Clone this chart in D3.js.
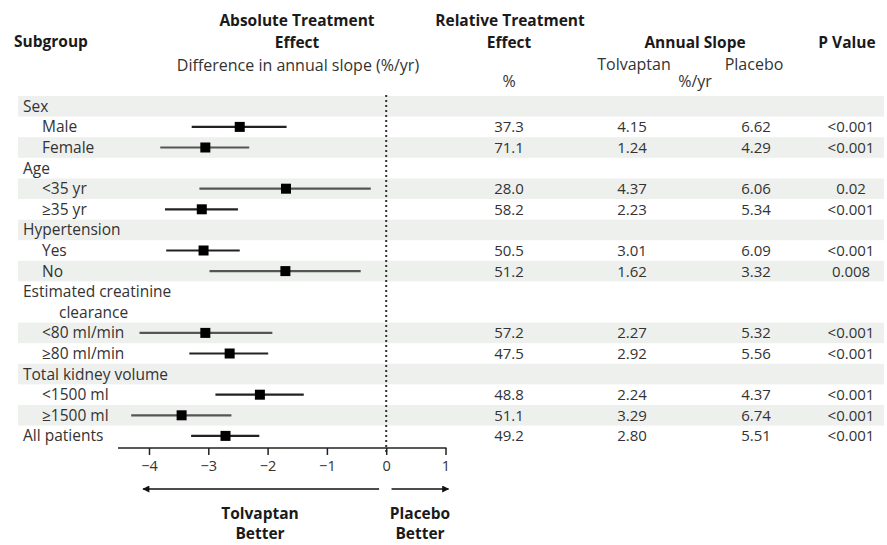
<!DOCTYPE html>
<html>
<head>
<meta charset="utf-8">
<script src="https://cdn.jsdelivr.net/npm/d3@7"></script>
<style>
body { margin: 0; background: #fff; }
svg { font-family: "Open Sans", "Noto Sans", sans-serif; }
.hdr { font-weight: bold; fill: #1a1a1a; font-size: 15.5px; }
.sub { fill: #333; font-size: 16px; }
.lbl { fill: #333; font-size: 15.5px; }
.num { fill: #333; font-size: 15px; }
</style>
</head>
<body>
<div id="chart"></div>
<script>
// subgroup rows (top to bottom)
var labels = ["Sex", "Male", "Female", "Age", "<35 yr", "\u226535 yr", "Hypertension", "Yes", "No",
  "Estimated creatinine|clearance", "<80 ml/min", "\u226580 ml/min", "Total kidney volume",
  "<1500 ml", "\u22651500 ml", "All patients"];
var indent = [0, 1, 1, 0, 1, 1, 0, 1, 1, 0, 1, 1, 0, 1, 1, 0];

// difference in annual slope (%/yr), with 95% CI
var estimate = [null, -2.47, -3.05, null, -1.69, -3.11, null, -3.08, -1.70, null, -3.05, -2.64, null, -2.13, -3.45, -2.71];
var lower    = [null, -3.28, -3.81, null, -3.15, -3.73, null, -3.71, -2.98, null, -4.16, -3.32, null, -2.88, -4.30, -3.29];
var upper    = [null, -1.68, -2.31, null, -0.26, -2.50, null, -2.47, -0.43, null, -1.92, -1.99, null, -1.39, -2.61, -2.14];

var relEffect = [null, "37.3", "71.1", null, "28.0", "58.2", null, "50.5", "51.2", null, "57.2", "47.5", null, "48.8", "51.1", "49.2"];
var slopeTolv = [null, "4.15", "1.24", null, "4.37", "2.23", null, "3.01", "1.62", null, "2.27", "2.92", null, "2.24", "3.29", "2.80"];
var slopePlac = [null, "6.62", "4.29", null, "6.06", "5.34", null, "6.09", "3.32", null, "5.32", "5.56", null, "4.37", "6.74", "5.51"];
var pValue    = [null, "<0.001", "<0.001", null, "0.02", "<0.001", null, "<0.001", "0.008", null, "<0.001", "<0.001", null, "<0.001", "<0.001", "<0.001"];

var ticks = [-4, -3, -2, -1, 0, 1];

var width = 887, height = 545;
var svg = d3.select("#chart").append("svg").attr("width", width).attr("height", height);

var x = d3.scaleLinear().domain([-4, 1]).range([149, 445.5]);
var rowH = 20.6, top0 = 96;

// slot positions (the creatinine row takes two lines)
var rows = [];
var slot = 0;
labels.forEach(function(l, i) {
  var lines = l.split("|");
  rows.push({i: i, lines: lines, slot: slot, n: lines.length});
  slot += lines.length;
});
var y = d3.scaleLinear().domain([0, slot]).range([top0, top0 + slot * rowH]);

// stripes
svg.selectAll("rect.stripe").data(rows.filter(function(d) { return d.i % 2 == 0; }))
  .enter().append("rect").attr("class", "stripe")
  .attr("x", 18).attr("width", 866)
  .attr("y", function(d) { return y(d.slot); })
  .attr("height", function(d) { return y(d.slot + d.n) - y(d.slot); })
  .attr("fill", "#eef0ee");

// labels
rows.forEach(function(d) {
  d.lines.forEach(function(t, k) {
    var xx = 23 + indent[d.i] * 19 + (k > 0 ? 36 : 0);
    svg.append("text").attr("class", "lbl")
      .attr("x", xx).attr("y", y(d.slot + k + 0.5)).attr("dy", "0.36em")
      .text(t);
  });
});

// zero line
svg.append("line")
  .attr("x1", x(0)).attr("x2", x(0))
  .attr("y1", top0 - 1).attr("y2", y(slot) + 6)
  .attr("stroke", "#333").attr("stroke-width", 2).attr("stroke-dasharray", "2,3");

// CIs
var dataRows = rows.filter(function(d) { return estimate[d.i] != null; });
svg.selectAll("line.ci").data(dataRows).enter().append("line").attr("class", "ci")
  .attr("x1", function(d) { return x(lower[d.i]); })
  .attr("x2", function(d) { return x(upper[d.i]); })
  .attr("y1", function(d) { return y(d.slot + 0.5); })
  .attr("y2", function(d) { return y(d.slot + 0.5); })
  .attr("stroke", function(d) { return d.i % 2 == 0 ? "#555" : "#222"; })
  .attr("stroke-width", 2.2);

svg.selectAll("rect.pt").data(dataRows).enter().append("rect").attr("class", "pt")
  .attr("x", function(d) { return x(estimate[d.i]) - 5; })
  .attr("y", function(d) { return y(d.slot + 0.5) - 5; })
  .attr("width", 10).attr("height", 10)
  .attr("fill", "#000");

// numbers
var cols = [[relEffect, 509], [slopeTolv, 632], [slopePlac, 756], [pValue, 851]];
cols.forEach(function(c) {
  svg.selectAll(null).data(dataRows).enter().append("text").attr("class", "num")
    .attr("x", c[1]).attr("y", function(d) { return y(d.slot + 0.5); })
    .attr("dy", "0.36em").attr("text-anchor", "middle")
    .text(function(d) { return c[0][d.i]; });
});

// axis
var axisY = 448;
var axis = d3.axisBottom(x).tickValues(ticks).tickSize(7)
  .tickFormat(function(d) { return d < 0 ? "\u2212" + Math.abs(d) : d; });
var g = svg.append("g").attr("transform", "translate(0," + axisY + ")").call(axis);
g.select(".domain").remove();
g.append("line").attr("x1", 118).attr("x2", x(1) + 1).attr("stroke", "#222").attr("stroke-width", 1.5);
g.selectAll(".tick line").attr("stroke", "#222").attr("stroke-width", 1.5);
g.selectAll(".tick text").attr("font-family", "Open Sans, sans-serif").attr("font-size", 14.5)
  .attr("fill", "#333").attr("y", 13);

// arrows
svg.append("defs").append("marker").attr("id", "ah")
  .attr("viewBox", "0 0 10 10").attr("refX", 9).attr("refY", 5)
  .attr("markerWidth", 10).attr("markerHeight", 7).attr("markerUnits", "userSpaceOnUse")
  .attr("orient", "auto-start-reverse")
  .append("path").attr("d", "M0,0L10,5L0,10z").attr("fill", "#111");
svg.append("line").attr("x1", x(-0.12)).attr("x2", x(-4.1)).attr("y1", 489).attr("y2", 489)
  .attr("stroke", "#111").attr("stroke-width", 1.5).attr("marker-end", "url(#ah)");
svg.append("line").attr("x1", x(0.09)).attr("x2", x(1.05)).attr("y1", 489).attr("y2", 489)
  .attr("stroke", "#111").attr("stroke-width", 1.5).attr("marker-end", "url(#ah)");

function hdr(t, xx, yy, cls) {
  svg.append("text").attr("class", cls || "hdr").attr("x", xx).attr("y", yy)
    .attr("text-anchor", "middle").text(t);
}
hdr("Tolvaptan", 260, 519);
hdr("Better", 260, 539);
hdr("Placebo", 420, 519);
hdr("Better", 420, 539);

// header
svg.append("text").attr("class", "hdr").attr("x", 14).attr("y", 47).text("Subgroup");
hdr("Absolute Treatment", 297, 26);
hdr("Effect", 297, 48);
hdr("Difference in annual slope (%/yr)", 298, 71, "sub");
hdr("Relative Treatment", 510, 26);
hdr("Effect", 509, 48);
hdr("Annual Slope", 695, 48);
hdr("P Value", 847, 48);
hdr("Tolvaptan", 634, 70, "sub");
hdr("Placebo", 754, 70, "sub");
hdr("%", 509, 87, "sub");
hdr("%/yr", 695, 87, "sub");
</script>
</body>
</html>
